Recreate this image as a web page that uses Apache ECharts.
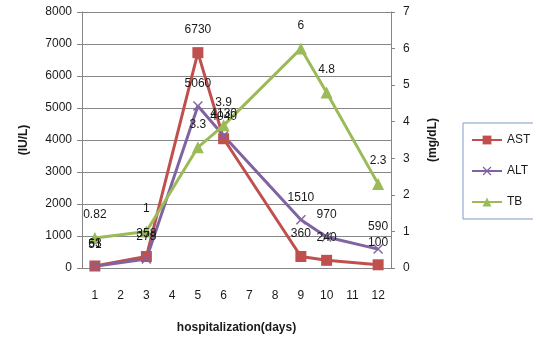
<!DOCTYPE html>
<html>
<head>
<meta charset="utf-8">
<script src="https://cdn.jsdelivr.net/npm/echarts@6/dist/echarts.min.js"></script>
<style>
  html, body { margin: 0; padding: 0; background: #fff; }
  #chart { width: 533px; height: 342px; }
</style>
</head>
<body>
<div id="chart"></div>
<script>
const varFont = 'Liberation Sans';

const days = ['1', '2', '3', '4', '5', '6', '7', '8', '9', '10', '11', '12'];
const astData = [63, null, 358, null, 6730, 4040, null, null, 360, 240, null, 100];
const altData = [51, null, 278, null, 5060, 4130, null, null, 1510, 970, null, 590];
const tbData = [0.82, null, 1, null, 3.3, 3.9, null, null, 6, 4.8, null, 2.3];

const crossSymbol = 'path://M0,1L1,0L5,4L9,0L10,1L6,5L10,9L9,10L5,6L1,10L0,9L4,5Z';

function makeSeries(name, data, color, symbol, size, yIndex) {
    return {
        name: name,
        type: 'line',
        data: data,
        yAxisIndex: yIndex,
        connectNulls: true,
        symbol: symbol,
        symbolSize: size,
        lineStyle: { color: color, width: 3 },
        itemStyle: { color: color },
        label: {
            show: true,
            position: 'top',
            distance: 11,
            color: '#1a1a1a',
            fontSize: 12,
            fontFamily: varFont,
        },
        emphasis: { disabled: true },
        animation: false,
    };
}

var myChart = echarts.init(document.getElementById('chart'));

var option = {
    textStyle: { fontFamily: varFont },
    animation: false,
    grid: { left: 82, right: 142, top: 12, bottom: 74 },
    legend: {
        orient: 'vertical',
        left: 463,
        top: 123,
        padding: [11, 8, 11, 8],
        itemGap: 19,
        itemWidth: 30,
        itemHeight: 11,
        borderColor: '#7f9cc4',
        borderWidth: 1,
        textStyle: { fontSize: 12, color: '#1a1a1a', fontFamily: varFont },
        data: ['AST', 'ALT', 'TB'],
    },
    xAxis: {
        type: 'category',
        data: days,
        name: 'hospitalization(days)',
        nameLocation: 'middle',
        nameGap: 54,
        nameTextStyle: { fontWeight: 'bold', fontSize: 12, color: '#1a1a1a' },
        axisLine: { lineStyle: { color: '#868686' } },
        axisTick: { length: 5, lineStyle: { color: '#868686' } },
        axisLabel: { margin: 22, fontSize: 12, color: '#1a1a1a' },
    },
    yAxis: [
        {
            type: 'value',
            min: 0,
            max: 8000,
            interval: 1000,
            name: '(IU/L)',
            nameLocation: 'middle',
            nameRotate: 90,
            nameGap: 52,
            nameTextStyle: { fontWeight: 'bold', fontSize: 12, color: '#1a1a1a' },
            axisLine: { show: true, lineStyle: { color: '#868686' } },
            axisTick: { show: true, length: 5, lineStyle: { color: '#868686' } },
            axisLabel: {
                margin: 10,
                fontSize: 12,
                color: '#1a1a1a',
                formatter: (v) => String(v),
            },
            splitLine: { lineStyle: { color: '#868686' } },
        },
        {
            type: 'value',
            min: 0,
            max: 7,
            interval: 1,
            position: 'right',
            name: '(mg/dL)',
            nameLocation: 'middle',
            nameRotate: 90,
            nameGap: 36,
            nameTextStyle: { fontWeight: 'bold', fontSize: 12, color: '#1a1a1a' },
            axisLine: { show: true, lineStyle: { color: '#868686' } },
            axisTick: { show: true, length: 4, lineStyle: { color: '#868686' } },
            axisLabel: { margin: 12, fontSize: 12, color: '#1a1a1a' },
            splitLine: { show: false },
        },
    ],
    series: [
        makeSeries('AST', astData, '#c0504d', 'rect', 11, 0),
        makeSeries('ALT', altData, '#8064a2', crossSymbol, 10, 0),
        makeSeries('TB', tbData, '#9bbb59', 'triangle', 12, 1),
    ],
};

myChart.setOption(option);
</script>
</body>
</html>
